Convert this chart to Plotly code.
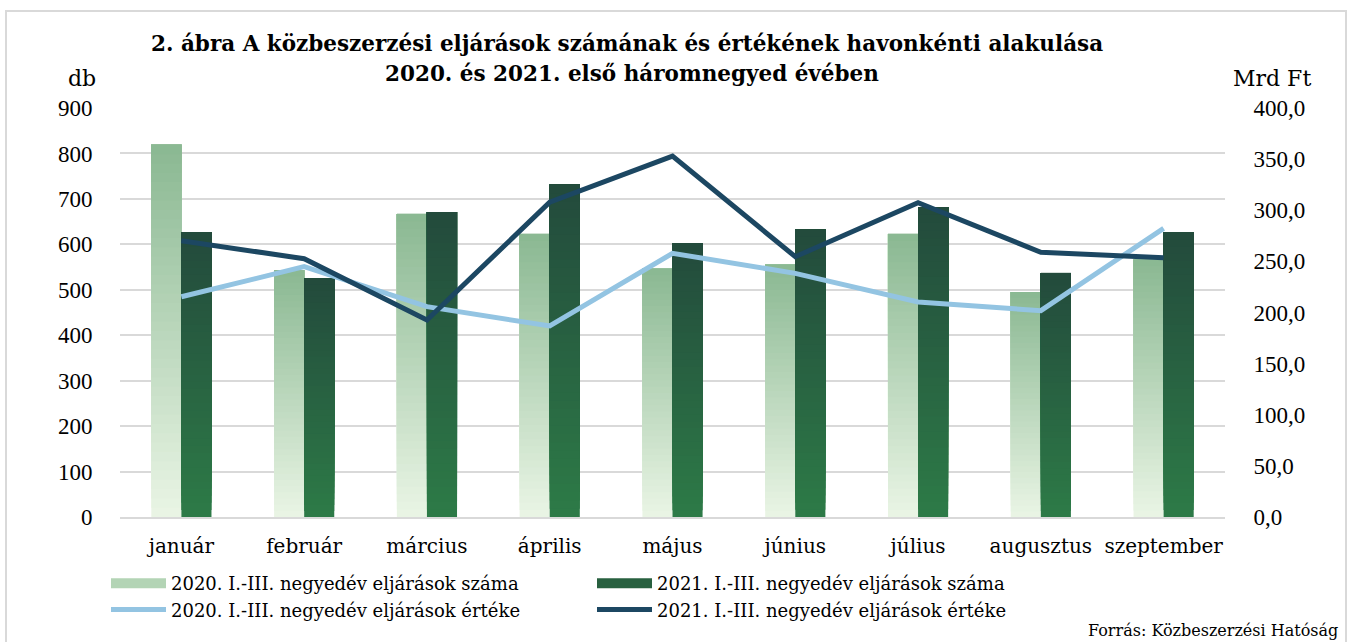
import plotly.graph_objects as go

months = ["január", "február", "március", "április", "május", "június", "július", "augusztus", "szeptember"]
count_2020 = [819, 543, 667, 623, 546, 555, 623, 495, 566]
count_2021 = [627, 524, 671, 731, 602, 632, 682, 537, 627]
value_2020 = [215.4, 244.8, 205.7, 186.8, 257.9, 238.3, 210.3, 201.8, 282.3]
value_2021 = [270.2, 252.6, 192.7, 307.8, 353.0, 254.6, 307.4, 258.9, 253.6]

names = ["2020. I.-III. negyedév eljárások száma",
         "2021. I.-III. negyedév eljárások száma",
         "2020. I.-III. negyedév eljárások értéke",
         "2021. I.-III. negyedév eljárások értéke"]

W, H = 1351, 642
L, R, T, B = 120, 1225, 108, 517
SERIF = "DejaVu Serif"
NUMF = "Liberation Serif"

def px_x(p):
    return (p - L) / (R - L)

def px_y(p):
    return (B - p) / (B - T)

def lerp(c1, c2, t):
    return "rgb(%d,%d,%d)" % tuple(round(a + (b - a) * t) for a, b in zip(c1, c2))

fig = go.Figure()

NSEG = 40
grad = {
    "2020": ((234, 245, 229), (138, 184, 146)),
    "2021": ((45, 123, 71), (35, 74, 60)),
}
legend_col = {"2020": "#b3d4b5", "2021": "#28603f"}
for i, (key, vals, name) in enumerate((("2020", count_2020, names[0]), ("2021", count_2021, names[1]))):
    bot, top = grad[key]
    for k in range(NSEG):
        t = (k + 0.5) / NSEG
        fig.add_trace(go.Bar(
            x=months,
            y=[v * (NSEG - k) / NSEG for v in vals],
            base=[v * k / NSEG for v in vals],
            offsetgroup=key,
            marker=dict(color=lerp(bot, top, t), line=dict(width=0)),
            name=name,
            legendgroup=key,
            showlegend=False,
            hoverinfo="skip",
        ))
    # legend entry (wide rectangle-like symbol)
    fig.add_trace(go.Scatter(x=[None], y=[None], mode="lines", name=name,
                             legendgroup=key, legendrank=i + 1,
                             line=dict(color=legend_col[key], width=12)))

fig.add_trace(go.Scatter(x=months, y=value_2020, yaxis="y2", mode="lines", legendrank=3,
                         line=dict(color="#93c4e2", width=5), name=names[2]))
fig.add_trace(go.Scatter(x=months, y=value_2021, yaxis="y2", mode="lines", legendrank=4,
                         line=dict(color="#1c4762", width=5), name=names[3]))

fig.update_layout(
    width=W, height=H,
    margin=dict(l=L, r=W - R, t=T, b=H - B, autoexpand=False),
    paper_bgcolor="white", plot_bgcolor="white",
    font=dict(family=SERIF, size=20, color="#000000"),
    separators=", ",
    barmode="group", bargap=0.51, bargroupgap=0,
    xaxis=dict(showgrid=False, showline=True, linecolor="#d9d9d9", linewidth=2,
               ticks="outside", ticklen=10, tickcolor="rgba(0,0,0,0)",
               tickfont=dict(family=SERIF, size=20), fixedrange=True),
    yaxis=dict(range=[0, 900], dtick=100, showgrid=True, gridcolor="#d9d9d9", gridwidth=2,
               zeroline=False, showline=False,
               ticks="outside", ticklen=22, tickcolor="rgba(0,0,0,0)",
               tickfont=dict(family=NUMF, size=23)),
    yaxis2=dict(range=[0, 400], dtick=50, overlaying="y", side="right",
                tickformat=".1f", showgrid=False, zeroline=False, showline=False,
                ticks="outside", ticklen=23, tickcolor="rgba(0,0,0,0)",
                tickfont=dict(family=NUMF, size=23)),
    legend=dict(orientation="h", x=px_x(106), xanchor="left", y=px_y(565), yanchor="top",
                entrywidth=416, entrywidthmode="pixels", itemwidth=55,
                font=dict(family=SERIF, size=18), tracegroupgap=0, bgcolor="rgba(0,0,0,0)"),
    showlegend=True,
)

anns = [
    dict(text="<b>2. ábra A közbeszerzési eljárások számának és értékének havonkénti alakulása</b>",
         x=px_x(627), y=px_y(43), size=21.5),
    dict(text="<b>2020. és 2021. első háromnegyed évében</b>", x=px_x(632), y=px_y(73), size=21.5),
    dict(text="db", x=px_x(82), y=px_y(78), size=22),
    dict(text="Mrd Ft", x=px_x(1272), y=px_y(78), size=22),
]
for a in anns:
    fig.add_annotation(text=a["text"], x=a["x"], y=a["y"], xref="paper", yref="paper",
                       xanchor="center", yanchor="middle", showarrow=False,
                       font=dict(family=SERIF, size=a["size"], color="#000000"))
fig.add_annotation(text="Forrás: Közbeszerzési Hatóság", x=px_x(1340), y=px_y(630),
                   xref="paper", yref="paper", xanchor="right", yanchor="middle",
                   showarrow=False, font=dict(family=SERIF, size=16, color="#000000"))

fig.add_shape(type="rect", xref="paper", yref="paper",
              x0=px_x(6), x1=px_x(1346), y0=px_y(660), y1=px_y(11),
              line=dict(color="#d9d9d9", width=2), fillcolor="rgba(0,0,0,0)", layer="below")

fig.write_html("out.html", config={"displayModeBar": False},
               post_script="document.body.style.margin='0';")
